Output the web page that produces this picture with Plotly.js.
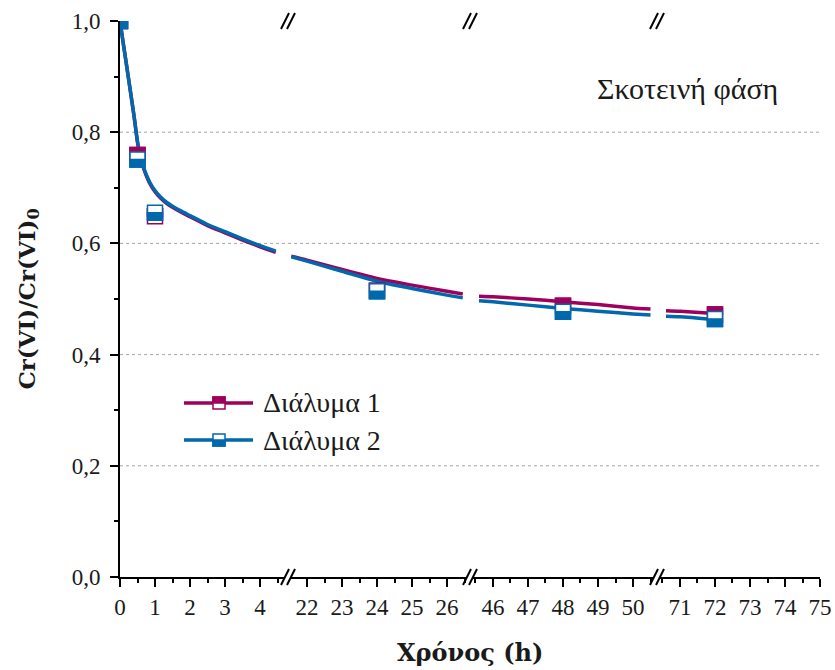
<!DOCTYPE html>
<html><head><meta charset="utf-8">
<script src="https://cdn.plot.ly/plotly-3.0.1.min.js"></script>
<style>html,body{margin:0;padding:0;background:#fff}</style>
</head><body><div id="chart" style="width:835px;height:670px"></div>
<script>
// ---------- data ----------
const seriesNames = ['Διάλυμα 1', 'Διάλυμα 2'];
const pointTimes = [0, 0.5, 1, 24, 48, 72];
const solution1Points = [1.0, 0.759, 0.649, 0.515, 0.488, 0.472];
const solution2Points = [1.0, 0.751, 0.655, 0.514, 0.477, 0.464];

const curveTimes1 = [0, 0.1, 0.2, 0.3, 0.4, 0.5, 0.55, 0.6, 0.67, 0.75, 0.85, 1, 1.15, 1.33, 1.5, 1.75, 2, 2.5, 3, 3.5, 4, 4.45,
  21.55, 22, 23, 24, 25, 26, 26.45,
  45.6, 46, 47, 48, 49, 50, 50.5,
  70.6, 71, 72];
const curveValues1 = [1.0, 0.957, 0.915, 0.872, 0.829, 0.782, 0.765, 0.751, 0.736, 0.722, 0.708, 0.693, 0.682, 0.672, 0.665, 0.656, 0.648, 0.632, 0.619, 0.606, 0.594, 0.584,
  0.577, 0.570, 0.553, 0.537, 0.525, 0.514, 0.509,
  0.505, 0.504, 0.500, 0.495, 0.490, 0.484, 0.482,
  0.479, 0.478, 0.474];
const curveTimes2 = curveTimes1.slice();
const curveValues2 = [1.0, 0.957, 0.915, 0.873, 0.830, 0.783, 0.766, 0.752, 0.737, 0.724, 0.710, 0.695, 0.684, 0.674, 0.667, 0.658, 0.650, 0.634, 0.621, 0.608, 0.596, 0.586,
  0.576, 0.568, 0.550, 0.532, 0.519, 0.507, 0.502,
  0.497, 0.495, 0.489, 0.483, 0.478, 0.473, 0.471,
  0.469, 0.468, 0.463];

const segmentTicks = [[0, 1, 2, 3, 4], [22, 23, 24, 25, 26], [46, 47, 48, 49, 50], [71, 72, 73, 74, 75]];
const yTicks = [0, 0.2, 0.4, 0.6, 0.8, 1.0];
const gridValues = [0.2, 0.4, 0.6, 0.8];
const annotationText = 'Σκοτεινή φάση';
const xTitle = 'Χρόνος (h)';
const yTitle = 'Cr(VI)/Cr(VI)<sub>0</sub>';

// ---------- layout geometry ----------
const COLORS = ['#9E005C', '#0068AC'];
const L = 120, R = 820, T = 21, B = 577;
const PW = R - L, PH = B - T;
const px2x = p => (p - L) / PW;
const px2y = p => (B - p) / PH;
const segs = [
  {range: [0, 4.714], px: [120, 285]},
  {range: [21.543, 26.571], px: [291, 467]},
  {range: [45.429, 50.6], px: [473, 654]},
  {range: [70.429, 75], px: [660, 820]}
];
const yRange = [yTicks[0], yTicks[yTicks.length - 1]];
const xNames = ['x', 'x2', 'x3', 'x4'];
const xKeys = ['xaxis', 'xaxis2', 'xaxis3', 'xaxis4'];
const topKeys = ['xaxis5', 'xaxis6', 'xaxis7', 'xaxis8'];

function segIndex(t) {
  for (let i = 0; i < segs.length; i++) {
    if (t >= segs[i].range[0] - 1e-9 && t <= segs[i].range[1] + 1e-9) return i;
  }
  return -1;
}

const tickFont = {family: 'Liberation Serif', size: 23, color: '#1a1a1a'};
function axisBase() {
  return {showgrid: false, zeroline: false, showline: true, linecolor: 'black', linewidth: 2,
    tickcolor: 'black', tickwidth: 2, ticklen: 8};
}

const layout = {
  width: 835, height: 670,
  margin: {l: L, r: 835 - R, t: T, b: 670 - B},
  paper_bgcolor: '#fff', plot_bgcolor: '#fff',
  showlegend: false,
  separators: ',.',
  font: {family: 'Liberation Serif', color: '#1a1a1a'},
  shapes: [], annotations: []
};

segs.forEach((s, i) => {
  const dom = [px2x(s.px[0]), px2x(s.px[1])];
  const step = segmentTicks[i][1] - segmentTicks[i][0];
  layout[xKeys[i]] = Object.assign(axisBase(), {
    domain: dom, range: s.range, anchor: 'y',
    tickmode: 'linear', tick0: segmentTicks[i][0], dtick: step,
    ticks: 'outside', tickfont: tickFont,
    minor: {dtick: step / 2, tick0: segmentTicks[i][0], ticks: 'outside', ticklen: 4, tickwidth: 2, tickcolor: 'black'}
  });
  layout[topKeys[i]] = Object.assign(axisBase(), {
    domain: dom, range: s.range, anchor: 'y', overlaying: xNames[i], side: 'top',
    tickmode: 'linear', tick0: segmentTicks[i][0], dtick: step, showticklabels: false,
    ticks: 'inside',
    minor: {dtick: step / 2, tick0: segmentTicks[i][0], ticks: 'inside', ticklen: 4, tickwidth: 2, tickcolor: 'black'}
  });
});

const yStep = yTicks[1] - yTicks[0];
layout.yaxis = Object.assign(axisBase(), {
  domain: [0, 1], range: yRange, anchor: 'x',
  tickmode: 'linear', tick0: yTicks[0], dtick: yStep, tickformat: '.1f', ticks: 'outside', tickfont: tickFont,
  ticklabelstandoff: 5,
  minor: {dtick: yStep / 2, ticks: 'outside', ticklen: 4, tickwidth: 2, tickcolor: 'black'},
  title: {text: yTitle, font: {family: 'DejaVu Serif', size: 23, weight: 'bold', color: '#1a1a1a'}, standoff: 30}
});
layout.yaxis2 = Object.assign(axisBase(), {
  range: yRange, overlaying: 'y', side: 'right', anchor: 'x4',
  tickmode: 'linear', tick0: yTicks[0], dtick: yStep, showticklabels: false, ticks: 'inside',
  minor: {dtick: yStep / 2, ticks: 'inside', ticklen: 4, tickwidth: 2, tickcolor: 'black'}
});

// gridlines
gridValues.forEach(g => {
  layout.shapes.push({type: 'line', xref: 'paper', yref: 'y', x0: 0, x1: 1, y0: g, y1: g,
    line: {color: '#a6a6a6', width: 1, dash: '3px,3px'}, layer: 'below'});
});

// ---------- traces ----------
const traces = [];
function splitBySeg(times, vals, i) {
  const xs = [], ys = [];
  times.forEach((t, k) => { if (segIndex(t) === i) { xs.push(t); ys.push(vals[k]); } });
  return [xs, ys];
}
function addCurves(times, vals, color, name) {
  segs.forEach((s, i) => {
    const [xs, ys] = splitBySeg(times, vals, i);
    if (xs.length) traces.push({x: xs, y: ys, xaxis: xNames[i], yaxis: 'y', type: 'scatter', mode: 'lines',
      name: name, line: {color: color, width: 3.5, shape: 'spline', smoothing: 0.6, simplify: false}, hoverinfo: 'skip'});
  });
}
function addPoints(times, vals, color, name) {
  segs.forEach((s, i) => {
    const [xs, ys] = splitBySeg(times, vals, i);
    if (xs.length) traces.push({x: xs, y: ys, xaxis: xNames[i], yaxis: 'y', type: 'scatter', mode: 'markers',
      name: name, marker: {symbol: 'square', size: 14, color: '#fff', line: {color: color, width: 1.5}}});
  });
}
addCurves(curveTimes1, curveValues1, COLORS[0], seriesNames[0]);
addCurves(curveTimes2, curveValues2, COLORS[1], seriesNames[1]);
addPoints(pointTimes, solution1Points, COLORS[0], seriesNames[0]);
addPoints(pointTimes, solution2Points, COLORS[1], seriesNames[1]);

// half-filled square markers drawn at data coordinates, clipped at the frame
function markerShapes(times, vals, color, topFilled, half) {
  times.forEach((t, k) => {
    const s = segIndex(t);
    const v = vals[k];
    const xl = (t <= segs[s].range[0]) ? 0 : -half;
    const xr = (t >= segs[s].range[1]) ? 0 : half;
    const yb = (v <= yRange[0]) ? 0 : -half;
    const yt = (v >= yRange[1]) ? 0 : half;
    const base = {xref: xNames[s], yref: 'y', xsizemode: 'pixel', ysizemode: 'pixel',
      xanchor: t, yanchor: v, layer: 'above', type: 'rect'};
    if (yt > yb) {
      layout.shapes.push(Object.assign({}, base, {x0: xl, x1: xr, y0: yb, y1: yt,
        fillcolor: '#fff', line: {color: color, width: 1.5}}));
    }
    const f0 = topFilled ? Math.max(0, yb) : yb;
    const f1 = topFilled ? yt : Math.min(0, yt);
    if (f1 > f0) {
      layout.shapes.push(Object.assign({}, base, {x0: xl, x1: xr, y0: f0, y1: f1,
        fillcolor: color, line: {color: color, width: 1.5}}));
    }
  });
}
markerShapes(pointTimes, solution1Points, COLORS[0], true, 7.5);
markerShapes(pointTimes, solution2Points, COLORS[1], false, 7.5);

// axis break marks
for (let i = 0; i < segs.length - 1; i++) {
  [px2x(segs[i].px[1]), px2x(segs[i + 1].px[0])].forEach(xa => {
    [0, 1].forEach(ya => {
      layout.shapes.push({type: 'line', xref: 'paper', yref: 'paper', xsizemode: 'pixel', ysizemode: 'pixel',
        xanchor: xa, yanchor: ya, x0: -4, x1: 4, y0: -8, y1: 8, line: {color: '#000', width: 2}, layer: 'above'});
    });
  });
}

// manual legend
const legendRows = [403, 440];
legendRows.forEach((py, i) => {
  layout.shapes.push({type: 'line', xref: 'paper', yref: 'paper', x0: px2x(184), x1: px2x(253),
    y0: px2y(py), y1: px2y(py), line: {color: COLORS[i], width: 3.5}, layer: 'above'});
  const base = {type: 'rect', xref: 'paper', yref: 'paper', xsizemode: 'pixel', ysizemode: 'pixel',
    xanchor: px2x(219), yanchor: px2y(py), layer: 'above'};
  layout.shapes.push(Object.assign({}, base, {x0: -6, x1: 6, y0: -6, y1: 6, fillcolor: '#fff', line: {color: COLORS[i], width: 1.5}}));
  layout.shapes.push(Object.assign({}, base, {x0: -6, x1: 6, y0: i === 0 ? 0 : -6, y1: i === 0 ? 6 : 0,
    fillcolor: COLORS[i], line: {color: COLORS[i], width: 1.5}}));
  layout.annotations.push({xref: 'paper', yref: 'paper', x: px2x(261), y: px2y(py), xanchor: 'left', yanchor: 'middle',
    text: seriesNames[i], showarrow: false, font: {family: 'Liberation Serif', size: 28, color: '#1a1a1a'}});
});

layout.annotations.push({xref: 'paper', yref: 'paper', x: px2x(687), y: px2y(88), xanchor: 'center', yanchor: 'middle',
  text: annotationText, showarrow: false, font: {family: 'Liberation Serif', size: 30, color: '#1a1a1a'}});
layout.annotations.push({xref: 'paper', yref: 'paper', x: 0.5, y: px2y(652), xanchor: 'center', yanchor: 'middle',
  text: xTitle, showarrow: false, font: {family: 'DejaVu Serif', size: 24, weight: 'bold', color: '#1a1a1a'}});

Plotly.newPlot('chart', traces, layout, {displayModeBar: false});
</script></body></html>
